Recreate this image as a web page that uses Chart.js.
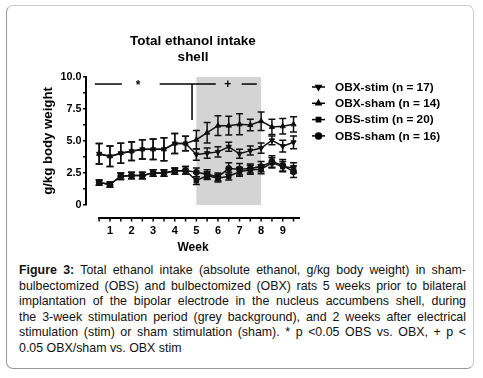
<!DOCTYPE html>
<html>
<head>
<meta charset="utf-8">
<script src="https://cdn.jsdelivr.net/npm/chart.js@4.4.0/dist/chart.umd.min.js"></script>
<style>
  body { margin: 0; background: #fff; width: 483px; height: 378px; overflow: hidden; font-family: "Liberation Sans", Arial, sans-serif; }
  #frame { position: absolute; left: 6px; top: 5px; width: 466px; height: 362px; border: 1px solid #cccccc; border-left-color: #999; border-bottom-color: #999; border-radius: 7px; }
  #wrap { position: absolute; left: 0; top: 0; width: 483px; height: 255px; }
  #caption { position: absolute; left: 19px; top: 263px; width: 447px; font-size: 12.4px; line-height: 15.5px; color: #111; }
  #caption div { text-align: justify; text-align-last: justify; }
  #caption div.last { text-align-last: left; }
</style>
</head>
<body>
<div id="frame"></div>
<div id="wrap"><canvas id="chart"></canvas></div>
<div id="caption">
  <div><b>Figure 3:</b> Total ethanol intake (absolute ethanol, g/kg body weight) in sham-</div>
  <div>bulbectomized (OBS) and bulbectomized (OBX) rats 5 weeks prior to bilateral</div>
  <div>implantation of the bipolar electrode in the nucleus accumbens shell, during</div>
  <div>the 3-week stimulation period (grey background), and 2 weeks after electrical</div>
  <div>stimulation (stim) or sham stimulation (sham). * p &lt;0.05 OBS vs. OBX, + p &lt;</div>
  <div class="last">0.05 OBX/sham vs. OBX stim</div>
</div>
<script>
const weeks = [0.5,1,1.5,2,2.5,3,3.5,4,4.5,5,5.5,6,6.5,7,7.5,8,8.5,9,9.5];
const obxStim    = [4.0,3.8,4.05,4.2,4.35,4.35,4.35,4.8,4.8,3.95,4.05,4.15,4.55,4.0,4.25,4.45,5.05,4.6,4.9];
const obxStimErr = [0.8,0.8,0.78,0.72,0.75,0.8,0.9,0.78,0.57,0.45,0.4,0.4,0.35,0.35,0.35,0.4,0.35,0.45,0.5];
const obxSham    = [4.0,3.8,4.05,4.2,4.35,4.35,4.35,4.8,4.8,5.1,5.65,6.2,6.2,6.3,6.25,6.55,6.1,6.15,6.3];
const obxShamErr = [0.8,0.8,0.78,0.72,0.75,0.8,0.9,0.78,0.57,0.73,0.8,0.78,0.74,0.82,0.45,0.72,0.6,0.6,0.6];
const obsStim    = [1.75,1.6,2.25,2.3,2.3,2.5,2.5,2.65,2.7,1.9,2.3,2.1,2.25,2.6,2.75,2.8,3.3,3.0,2.9];
const obsStimErr = [0.2,0.2,0.25,0.25,0.25,0.25,0.25,0.25,0.3,0.3,0.3,0.3,0.3,0.35,0.35,0.35,0.4,0.4,0.4];
const obsSham    = [1.75,1.6,2.25,2.3,2.3,2.5,2.5,2.65,2.7,2.55,2.4,2.2,2.85,2.8,2.85,3.0,3.4,3.1,2.6];
const obsShamErr = [0.2,0.2,0.25,0.25,0.25,0.25,0.25,0.25,0.3,0.35,0.35,0.3,0.45,0.45,0.35,0.4,0.45,0.45,0.45];

const xTicks = [0.5,1,1.5,2,2.5,3,3.5,4,4.5,5,5.5,6,6.5,7,7.5,8,8.5,9,9.5];
const xTickLabels = ['1','2','3','4','5','6','7','8','9'];
const yTicks = [0,1.25,2.5,3.75,5,6.25,7.5,8.75,10];
const yTickLabels = ['0','2.5','5.0','7.5','10.0'];

// stimulation period (grey) and significance marks, in week / y units
const stimPeriod = [5, 8];
const sigY = 9.45;
const sigLines = [[0.3, 1.55], [3.3, 5.9], [7.1, 7.8]];
const sigDrop = [4.8, 6.65];
const sigMarks = [['*', 2.3], ['+', 6.45]];

Chart.defaults.font.family = '"Liberation Sans", Arial, sans-serif';
Chart.defaults.color = '#000';

function pts(vals) { return weeks.map((w, i) => ({ x: w, y: vals[i] })); }
function ds(label, vals, errs, style, rot) {
  return { label, data: pts(vals), errs, borderColor: '#111', backgroundColor: '#111', borderWidth: 1.5,
    pointStyle: style, pointRotation: rot || 0, pointRadius: style === 'rect' ? 3.2 : 3, pointBorderWidth: 1, tension: 0, clip: false };
}

const extras = {
  id: 'extras',
  beforeDatasetsDraw(chart) {
    const { ctx, chartArea: a, scales: { x, y } } = chart;
    ctx.save();
    ctx.fillStyle = '#d4d4d4';
    const x0 = x.getPixelForValue(stimPeriod[0]), x1 = x.getPixelForValue(stimPeriod[1]);
    ctx.fillRect(x0, y.getPixelForValue(10), x1 - x0, y.getPixelForValue(0) - y.getPixelForValue(10));
    // error bars
    ctx.strokeStyle = '#111';
    ctx.lineWidth = 1.5;
    chart.data.datasets.forEach(d => {
      d.data.forEach((p, i) => {
        const px = x.getPixelForValue(p.x);
        const yt = y.getPixelForValue(p.y + d.errs[i]), yb = y.getPixelForValue(p.y - d.errs[i]);
        ctx.beginPath();
        ctx.moveTo(px, yt); ctx.lineTo(px, yb);
        ctx.moveTo(px - 3.5, yt); ctx.lineTo(px + 3.5, yt);
        ctx.moveTo(px - 3.5, yb); ctx.lineTo(px + 3.5, yb);
        ctx.stroke();
      });
    });
    ctx.restore();
  },
  afterDraw(chart) {
    const { ctx, chartArea: a, scales: { x, y } } = chart;
    ctx.save();
    ctx.strokeStyle = '#000';
    ctx.fillStyle = '#000';
    // detached x axis
    const ay = a.bottom + 13;
    ctx.lineWidth = 2;
    ctx.beginPath();
    ctx.moveTo(x.getPixelForValue(xTicks[0]) - 1, ay);
    ctx.lineTo(a.right, ay);
    ctx.stroke();
    ctx.lineWidth = 1.5;
    xTicks.forEach(v => {
      const px = x.getPixelForValue(v);
      ctx.beginPath(); ctx.moveTo(px, ay); ctx.lineTo(px, ay + 3.5); ctx.stroke();
    });
    // significance
    const sy = y.getPixelForValue(sigY);
    ctx.lineWidth = 1.5;
    sigLines.forEach(([s, e]) => {
      ctx.beginPath(); ctx.moveTo(x.getPixelForValue(s), sy); ctx.lineTo(x.getPixelForValue(e), sy); ctx.stroke();
    });
    ctx.beginPath();
    ctx.moveTo(x.getPixelForValue(sigDrop[0]), sy);
    ctx.lineTo(x.getPixelForValue(sigDrop[0]), y.getPixelForValue(sigDrop[1]));
    ctx.stroke();
    ctx.font = 'bold 12px "Liberation Sans", Arial';
    ctx.textAlign = 'center';
    ctx.textBaseline = 'middle';
    sigMarks.forEach(([t, w]) => ctx.fillText(t, x.getPixelForValue(w), sy + (t === '*' ? 2 : 0.5)));
    // legend
    ctx.font = 'bold 11.8px "Liberation Sans", Arial';
    ctx.textAlign = 'left';
    chart.data.datasets.forEach((d, i) => {
      const ly = a.top + 10 + i * 16.3;
      ctx.lineWidth = 1.5;
      ctx.beginPath(); ctx.moveTo(a.right + 12, ly); ctx.lineTo(a.right + 25, ly); ctx.stroke();
      Chart.helpers.drawPoint(ctx, { pointStyle: d.pointStyle, rotation: d.pointRotation, radius: 3, borderWidth: 1 }, a.right + 18.5, ly);
      ctx.fillText(d.label, a.right + 35, ly + 0.5);
    });
    ctx.restore();
  }
};

new Chart(document.getElementById('chart'), {
  type: 'line',
  data: {
    datasets: [
      ds('OBX-stim (n = 17)', obxStim, obxStimErr, 'triangle', 180),
      ds('OBX-sham (n = 14)', obxSham, obxShamErr, 'triangle'),
      ds('OBS-stim (n = 20)', obsStim, obsStimErr, 'rect'),
      ds('OBS-sham (n = 16)', obsSham, obsShamErr, 'circle')
    ]
  },
  options: {
    responsive: true,
    maintainAspectRatio: false,
    animation: false,
    layout: { padding: { left: 0, right: 183, top: 0, bottom: 0 } },
    plugins: {
      legend: { display: false },
      tooltip: { enabled: false },
      title: {
        display: true, fullSize: false,
        text: ['Total ethanol intake', 'shell'],
        color: '#000',
        font: { size: 13.5, weight: 'bold', lineHeight: 1.2 },
        padding: { top: 33, bottom: 11.6 }
      }
    },
    scales: {
      x: {
        type: 'linear', min: -0.11, max: 9.8,
        afterBuildTicks: s => { s.ticks = xTicks.map(v => ({ value: v })); },
        afterFit: s => { s.height = 50; },
        grid: { display: false },
        border: { display: false },
        ticks: {
          autoSkip: false, maxRotation: 0, padding: 11,
          font: { size: 11, weight: 'bold' },
          callback: v => Number.isInteger(v) ? xTickLabels[v - 1] : ''
        },
        title: { display: true, text: 'Week', font: { size: 12, weight: 'bold' }, padding: { top: 0, bottom: 0 } }
      },
      y: {
        min: 0, max: 10,
        afterBuildTicks: s => { s.ticks = yTicks.map(v => ({ value: v })); },
        afterFit: s => { s.width = 86; },
        grid: { drawOnChartArea: false, tickLength: 3, color: '#000', lineWidth: 1.5 },
        border: { display: true, color: '#000', width: 2 },
        ticks: {
          padding: 1.5,
          font: { size: 10.8, weight: 'bold' },
          callback: v => (v % 2.5 === 0) ? yTickLabels[v / 2.5] : ''
        },
        title: { display: true, text: 'g/kg body weight', font: { size: 13.2, weight: 'bold' }, padding: { top: 40, bottom: 0 } }
      }
    }
  },
  plugins: [extras]
});
</script>
</body>
</html>
